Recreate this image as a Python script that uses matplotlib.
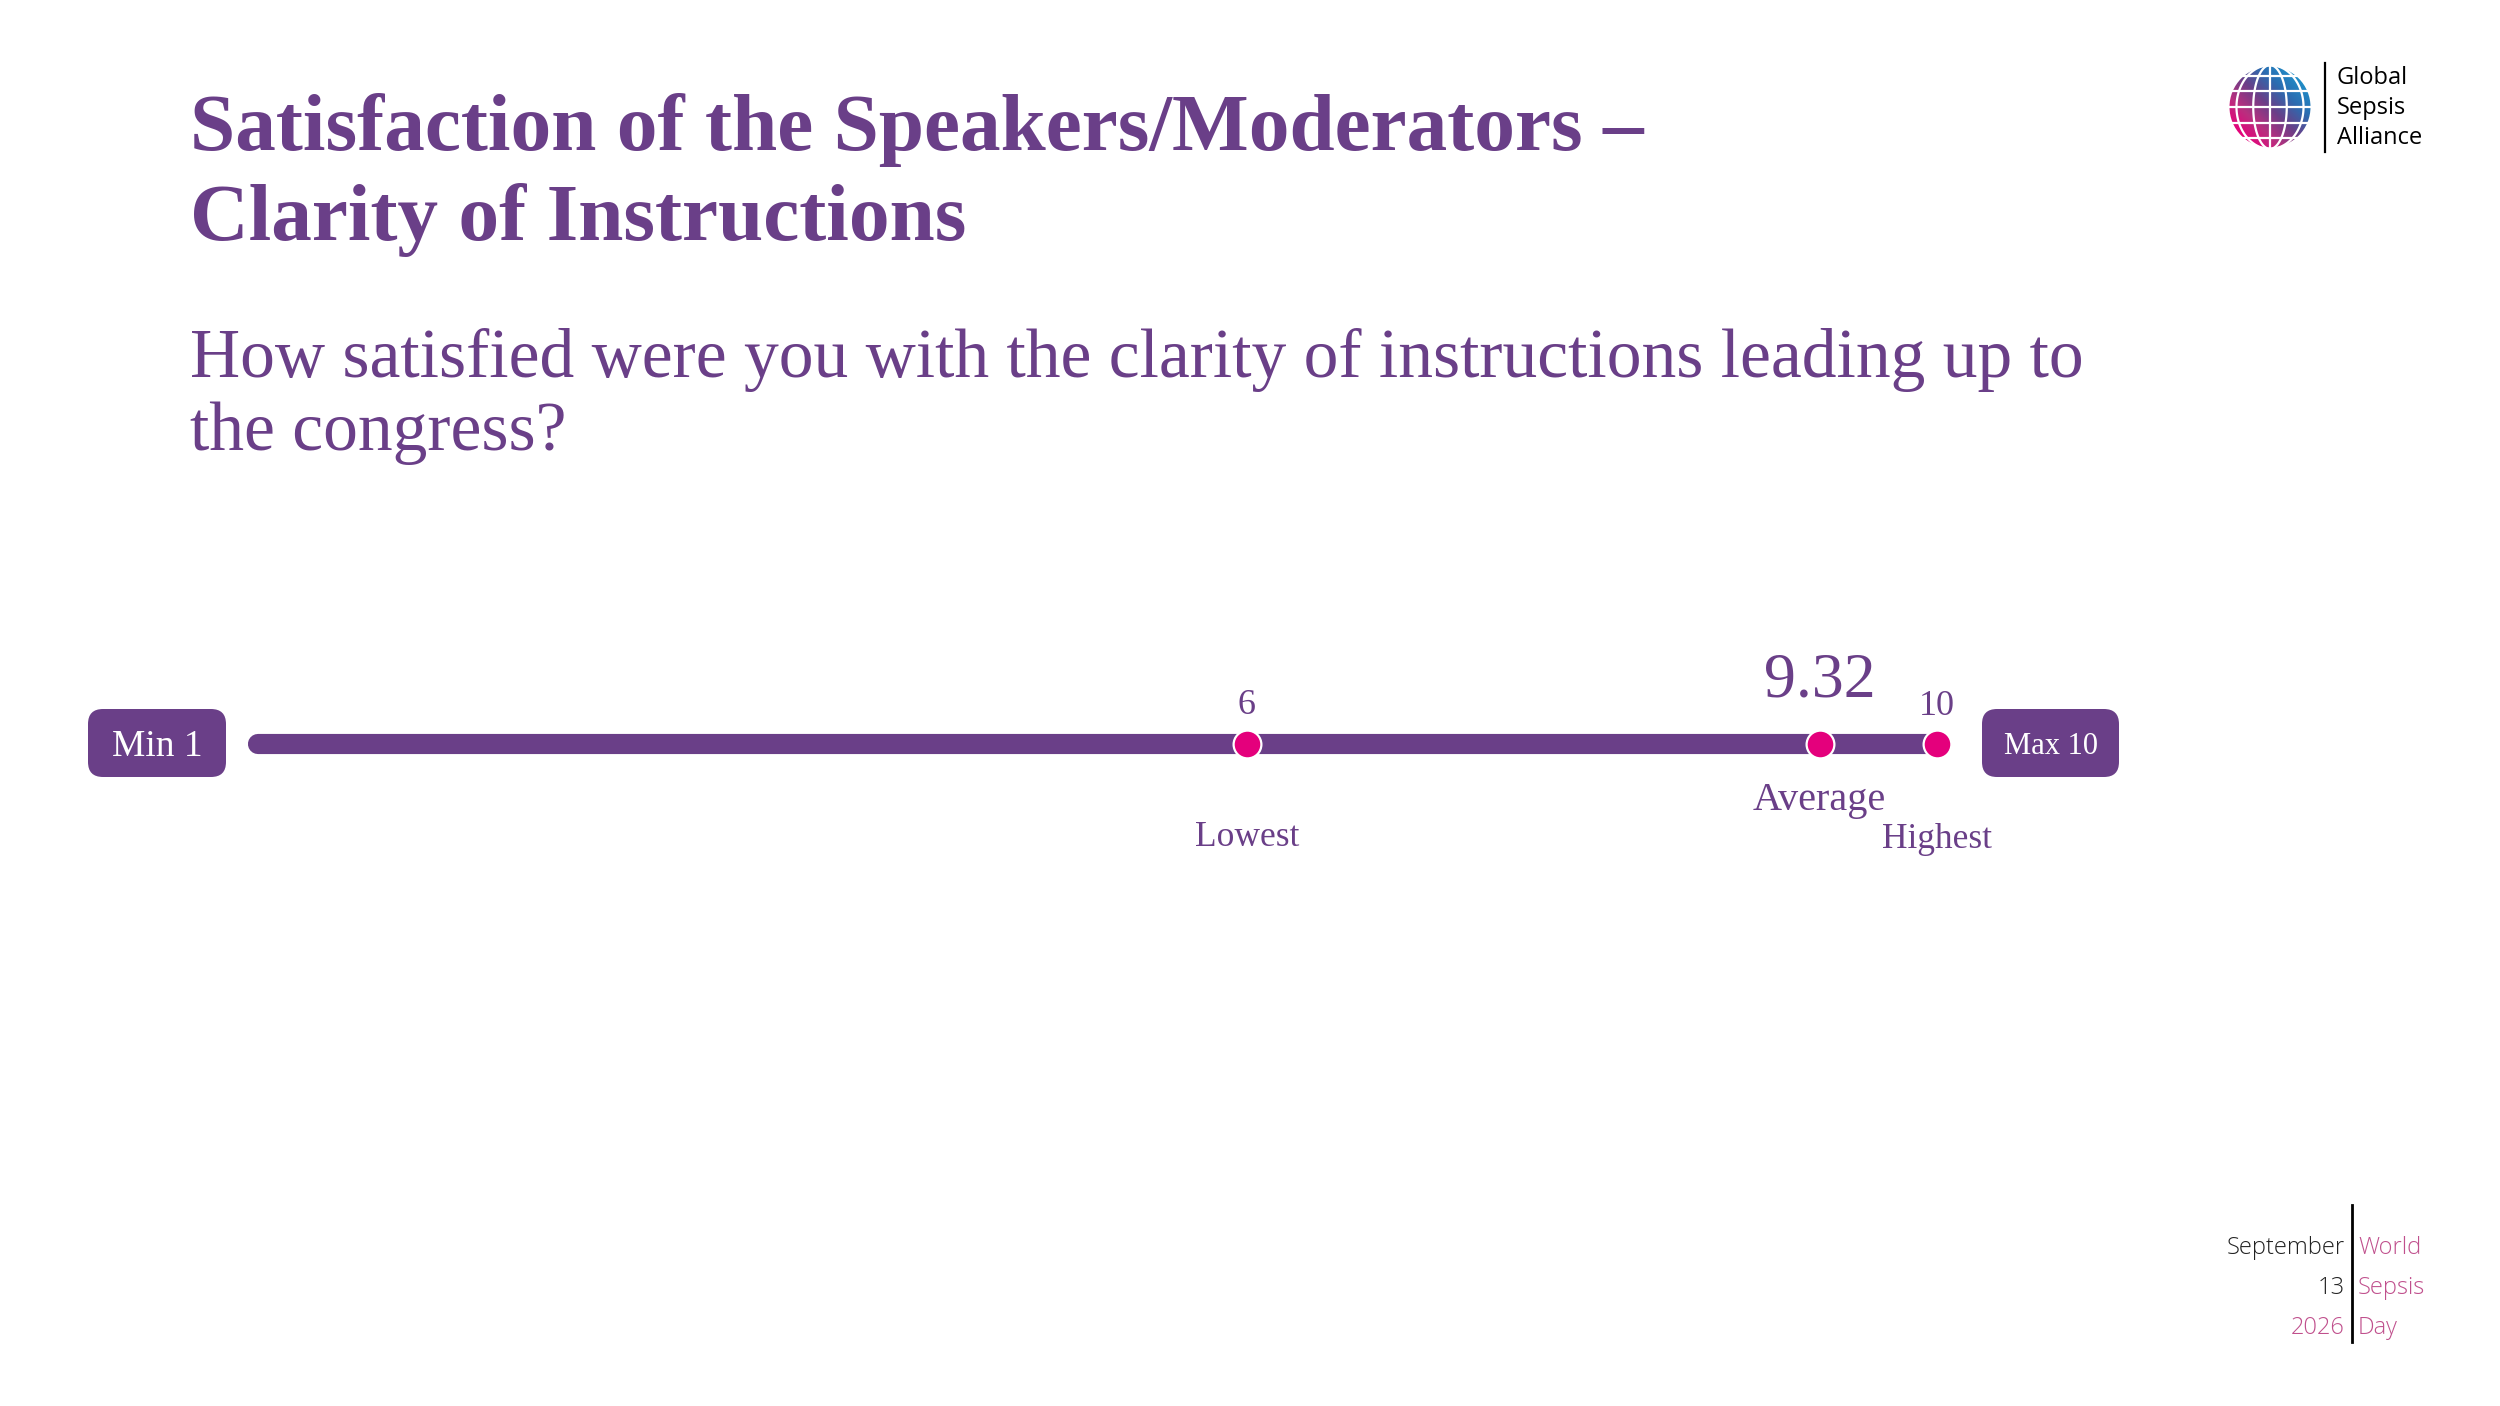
import matplotlib
matplotlib.use("Agg")
import matplotlib.pyplot as plt
import numpy as np
from matplotlib.patches import FancyBboxPatch, Circle
from matplotlib.transforms import blended_transform_factory
from matplotlib.colors import LinearSegmentedColormap

# survey result
scale_min, scale_max = 1, 10
lowest = 6
average = 9.32
highest = 10
point_values = [lowest, average, highest]
point_names = ["Lowest", "Average", "Highest"]

title_lines = ["Satisfaction of the Speakers/Moderators \u2013", "Clarity of Instructions"]
question_lines = ["How satisfied were you with the clarity of instructions leading up to",
                  "the congress?"]

W, H = 2500, 1406
purple = "#6a3f88"
magenta = "#e4007c"
pink_txt = "#c0508d"

fig = plt.figure(figsize=(W / 100, H / 100), dpi=100)
fig.patch.set_facecolor("white")


def fx(px):
    return px / W


def fy(py):
    return 1 - py / H


serif = "Liberation Serif"

# title + question
fig.text(fx(190), fy(150), title_lines[0], fontsize=58.5, fontweight="bold",
         family=serif, color=purple, va="baseline")
fig.text(fx(190), fy(240), title_lines[1], fontsize=58.5, fontweight="bold",
         family=serif, color=purple, va="baseline")
fig.text(fx(190), fy(377), question_lines[0], fontsize=50, family=serif,
         color=purple, va="baseline")
fig.text(fx(190), fy(450), question_lines[1], fontsize=50, family=serif,
         color=purple, va="baseline")

# scale axes: spans the bar in pixels, x in score units
bar_left, bar_right = 258, 1937
x_lo = 0.27
ax = fig.add_axes([fx(bar_left), fy(760), fx(bar_right - bar_left), 32 / H])
ax.set_xlim(x_lo, scale_max)
ax.set_ylim(-1, 1)
ax.axis("off")

ax.plot([x_lo, scale_max], [0, 0], color=purple, lw=14.5,
        solid_capstyle="round", clip_on=False, zorder=1)
ax.plot(point_values, [0] * len(point_values), "o", ms=20, color=magenta,
        mec="white", mew=1.6, clip_on=False, zorder=3)

# numbers above and names below the points
bt = blended_transform_factory(ax.transData, fig.transFigure)

ax.text(lowest, fy(714), f"{lowest:g}", transform=bt, ha="center", va="baseline",
        fontsize=26, family=serif, color=purple)
ax.text(average, fy(697), f"{average:.2f}", transform=bt, ha="center", va="baseline",
        fontsize=46, family=serif, color=purple)
ax.text(highest, fy(715), f"{highest:g}", transform=bt, ha="center", va="baseline",
        fontsize=26, family=serif, color=purple)

ax.text(lowest, fy(846), point_names[0], transform=bt, ha="center", va="baseline",
        fontsize=25.5, family=serif, color=purple)
ax.text(average, fy(810), point_names[1], transform=bt, ha="center", va="baseline",
        fontsize=29, family=serif, color=purple)
ax.text(highest, fy(848), point_names[2], transform=bt, ha="center", va="baseline",
        fontsize=25.5, family=serif, color=purple)

# min / max boxes
for (x0, x1, label, fs) in [(88, 226, f"Min {scale_min}", 27),
                            (1982, 2119, f"Max {scale_max}", 22)]:
    box = FancyBboxPatch((fx(x0 + 10), fy(777 - 10)), fx(x1 - x0 - 20), (68 - 20) / H,
                         boxstyle="round,pad=0.004,rounding_size=0.006",
                         transform=fig.transFigure, fc=purple, ec="none",
                         mutation_aspect=W / H)
    fig.patches.append(box)
    fig.text(fx((x0 + x1) / 2), fy(743), label, ha="center", va="center_baseline",
             fontsize=fs, family=serif, color="white")

# logo: gradient globe
lax = fig.add_axes([fx(2226), fy(152), fx(88), 90 / H])
lax.set_xlim(-1.05, 1.05)
lax.set_ylim(-1.05, 1.05)
lax.set_aspect("equal")
lax.axis("off")
gx, gy = np.meshgrid(np.linspace(-1, 1, 200), np.linspace(-1, 1, 200))
t = np.clip((gx + gy) / 2.8 + 0.5, 0, 1)
cmap = LinearSegmentedColormap.from_list("g", ["#e8007a", "#b8307f", "#6a3f88", "#2c6bb0", "#1f8fc8"])
im = lax.imshow(t, cmap=cmap, extent=(-1, 1, -1, 1), origin="lower")
clip = Circle((0, 0), 1, transform=lax.transData)
im.set_clip_path(clip)
th = np.linspace(-np.pi / 2, np.pi / 2, 60)
for k in np.linspace(-0.8, 0.8, 5):
    lax.plot(k * np.cos(th), np.sin(th), color="white", lw=1.6)
for yy in np.linspace(-0.75, 0.75, 5):
    hw = np.sqrt(1 - yy ** 2)
    lax.plot([-hw, hw], [yy, yy], color="white", lw=1.6)
lax.add_patch(Circle((0, 0), 1, fc="none", ec="white", lw=2))

fig.add_artist(plt.Line2D([fx(2325), fx(2325)], [fy(63), fy(152)], color="black",
                          lw=1.6, transform=fig.transFigure))
sans = "Open Sans"
for i, w in enumerate(["Global", "Sepsis", "Alliance"]):
    fig.text(fx(2337), fy(78 + 30 * i), w, ha="left", va="center", fontsize=17,
             family=sans, color="black")

# footer
fig.add_artist(plt.Line2D([fx(2352), fx(2352)], [fy(1205), fy(1342)], color="black",
                          lw=2, transform=fig.transFigure))
left_words = [("September", "#222222"), ("13", "#222222"), ("2026", pink_txt)]
right_words = ["World", "Sepsis", "Day"]
for i in range(3):
    yy = fy(1248 + 40 * i)
    fig.text(fx(2345), yy, left_words[i][0], ha="right", va="center", fontsize=17,
             family=sans, fontweight="light", color=left_words[i][1])
    fig.text(fx(2358), yy, right_words[i], ha="left", va="center", fontsize=17,
             family=sans, fontweight="light", color=pink_txt)

fig.savefig("out.png", dpi=100, facecolor="white")
